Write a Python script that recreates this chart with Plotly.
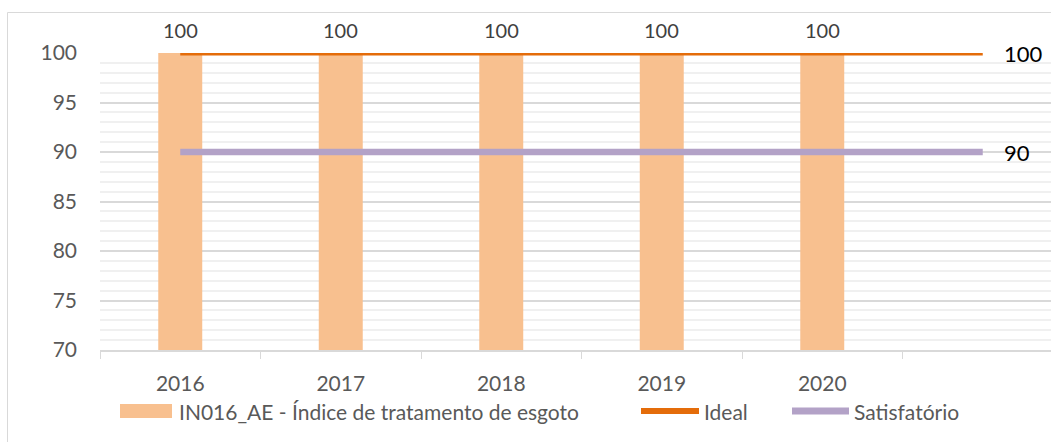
import plotly.graph_objects as go

# Categories (the last slot is an empty category that the target lines run into)
years = ["2016", "2017", "2018", "2019", "2020", ""]
bar_years = ["2016", "2017", "2018", "2019", "2020"]
in016_values = [100, 100, 100, 100, 100]
ideal_values = [100, 100, 100, 100, 100, 100]
satisfatorio_values = [90, 90, 90, 90, 90, 90]

series_bar = "IN016_AE - Índice de tratamento de esgoto"
series_ideal = "Ideal"
series_sat = "Satisfatório"

COL_BAR = "#F8C08F"
COL_IDEAL = "#E46C0A"
COL_SAT = "#B3A2C7"

FONT = "Lato"
W, H = 1051, 442
ML, MR, MT, MB = 100, 0, 53, 92
plot_w = W - ML - MR
plot_h = H - MT - MB
cat_px = 160.5


def px_x(x):
    return (x - ML) / plot_w


def px_y(y):
    return (plot_h + MT - y) / plot_h


fig = go.Figure()

fig.add_trace(go.Bar(
    x=bar_years, y=in016_values, name=series_bar,
    marker=dict(color=COL_BAR, line=dict(width=0)),
    width=0.274, showlegend=False,
))
fig.add_trace(go.Scatter(
    x=years, y=ideal_values, name=series_ideal, mode="lines",
    line=dict(color=COL_IDEAL, width=5), cliponaxis=False, showlegend=False,
))
fig.add_trace(go.Scatter(
    x=years, y=satisfatorio_values, name=series_sat, mode="lines",
    line=dict(color=COL_SAT, width=6.5), cliponaxis=False, showlegend=False,
))

annotations = []
# value labels above the bars
for i, yv in enumerate(in016_values):
    annotations.append(dict(
        x=i, y=yv, xref="x", yref="y", text=f"{yv:g}", showarrow=False,
        yanchor="middle", yshift=23,
        font=dict(family=FONT, size=20, color="#404040"),
    ))
# labels at the end of the target lines
for vals in (ideal_values, satisfatorio_values):
    annotations.append(dict(
        x=len(years) - 1, y=vals[-1], xref="x", yref="y", text=f"{vals[-1]:g}",
        showarrow=False, xanchor="left", xshift=19,
        font=dict(family=FONT, size=22, color="#000000"),
    ))

# legend row along the bottom
legend_y = 411
legend_items = [
    (series_bar, COL_BAR, 120, 172, 14, 177),
    (series_ideal, COL_IDEAL, 641, 699, 6, 702),
    (series_sat, COL_SAT, 792, 849, 7, 852),
]
shapes = [dict(
    type="rect", xref="paper", yref="paper",
    x0=px_x(7.5), x1=1.2, y0=px_y(12.5), y1=-0.6,
    line=dict(color="#D9D9D9", width=1), fillcolor="rgba(0,0,0,0)",
    layer="below",
)]
for label, col, x0, x1, thick, tx in legend_items:
    shapes.append(dict(
        type="rect", xref="paper", yref="paper",
        x0=px_x(x0), x1=px_x(x1),
        y0=px_y(legend_y - thick / 2), y1=px_y(legend_y + thick / 2),
        line=dict(width=0), fillcolor=col,
    ))
    annotations.append(dict(
        x=px_x(tx), y=px_y(legend_y), xref="paper", yref="paper",
        text=label, showarrow=False, xanchor="left", yanchor="middle",
        font=dict(family=FONT, size=21, color="#595959"),
    ))

fig.update_layout(
    width=W, height=H,
    margin=dict(l=ML, r=MR, t=MT, b=MB, pad=0),
    paper_bgcolor="white", plot_bgcolor="white",
    font=dict(family=FONT, size=20, color="#595959"),
    showlegend=False,
    bargap=0.726,
    annotations=annotations,
    shapes=shapes,
)

fig.update_xaxes(
    type="category", categoryorder="array", categoryarray=years,
    range=[-0.5, -0.5 + plot_w / cat_px],
    showline=True, linecolor="#D9D9D9", linewidth=1.5,
    ticks="outside", tickson="boundaries", ticklen=7, tickcolor="#D9D9D9",
    ticklabelstandoff=14, showgrid=False, zeroline=False,
    tickfont=dict(family=FONT, size=21, color="#595959"),
)
fig.update_yaxes(
    range=[70, 100], dtick=5, tick0=70,
    showgrid=True, gridcolor="#D9D9D9", gridwidth=1.5,
    minor=dict(dtick=1, showgrid=True, gridcolor="#F0F0F0", gridwidth=2),
    zeroline=False, showline=False, ticks="",
    ticklabelstandoff=22,
    tickfont=dict(family=FONT, size=21, color="#595959"),
)

fig.write_html("out.html")
